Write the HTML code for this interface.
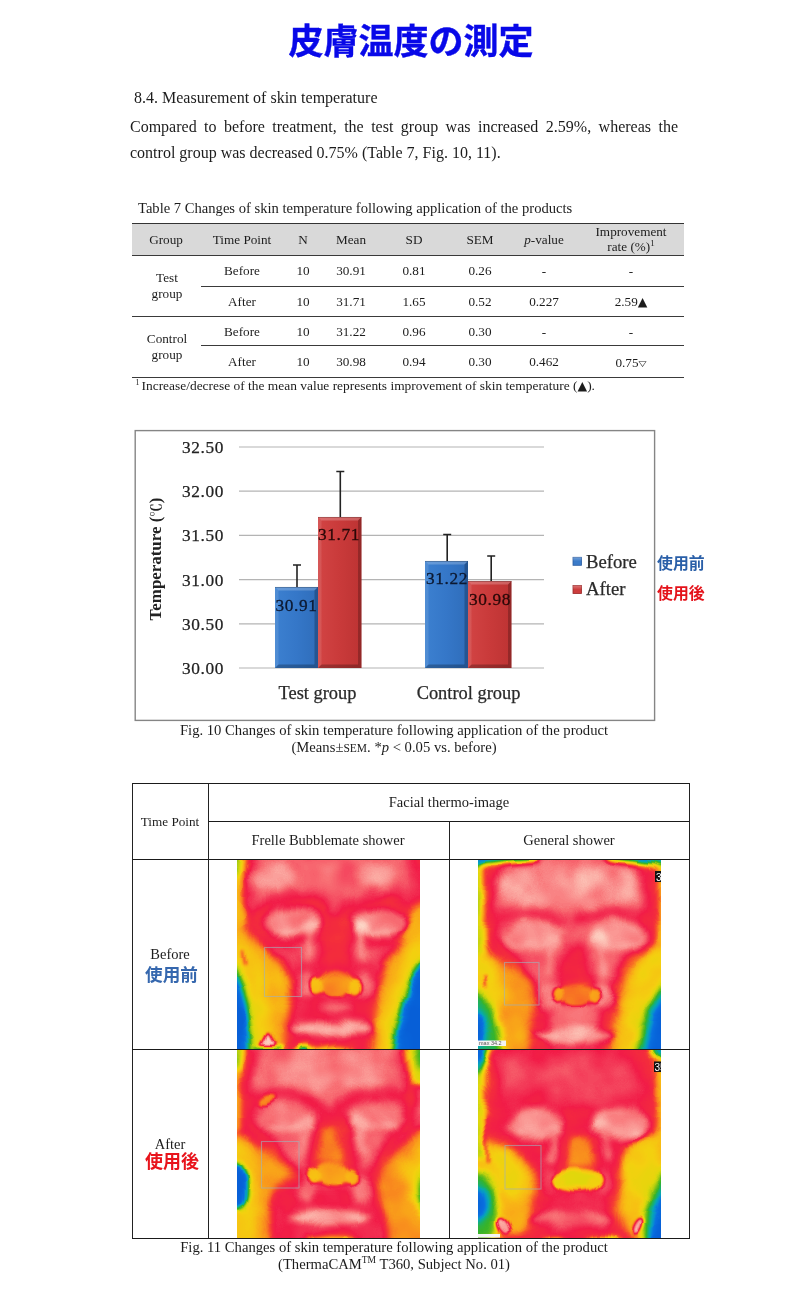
<!DOCTYPE html>
<html lang="ja">
<head>
<meta charset="utf-8">
<title>皮膚温度の測定</title>
<style>
html,body{margin:0;padding:0;background:#fff;}
body{width:800px;height:1298px;position:relative;overflow:hidden;font-family:"Liberation Serif","Noto Serif CJK SC",serif;color:#1c1c1c;}
.abs{position:absolute;white-space:nowrap;}
.title{left:11px;width:800px;top:16px;text-align:center;font-family:"Liberation Sans","Noto Sans CJK JP",sans-serif;font-weight:bold;font-size:35px;line-height:52px;color:#0808e8;-webkit-text-stroke:0.4px #0808e8;}
.p{font-size:16px;line-height:20px;}
.jp{font-family:"Liberation Sans","Noto Sans CJK JP",sans-serif;font-weight:bold;}
.hl{position:absolute;background:#3a3a3a;height:1px;}
.vl{position:absolute;background:#222;width:1px;}
.c{position:absolute;white-space:nowrap;transform:translateX(-50%);font-size:13.2px;line-height:16px;text-align:center;}
</style>
</head>
<body>
<div class="abs title">皮膚温度の測定</div>

<div class="abs p" style="left:134px;top:88px;">8.4. Measurement of skin temperature</div>
<div class="abs p" style="left:130px;top:117px;width:548px;white-space:normal;text-align:justify;text-align-last:justify;">Compared to before treatment, the test group was increased 2.59%, whereas the</div>
<div class="abs p" style="left:130px;top:143px;">control group was decreased 0.75% (Table 7, Fig. 10, 11).</div>

<!-- TABLE 7 -->
<div class="abs" style="left:138px;top:199px;font-size:14.6px;line-height:18px;">Table 7 Changes of skin temperature following application of the products</div>
<div id="t7">
<div style="position:absolute;left:132px;top:224px;width:552px;height:31px;background:#d9d9d9;"></div>
<div class="hl" style="left:132px;top:223px;width:552px;background:#333;"></div>
<div class="hl" style="left:132px;top:255px;width:552px;"></div>
<div class="hl" style="left:201px;top:286px;width:483px;"></div>
<div class="hl" style="left:132px;top:316px;width:552px;"></div>
<div class="hl" style="left:201px;top:345px;width:483px;"></div>
<div class="hl" style="left:132px;top:377px;width:552px;"></div>

<div class="c" style="left:166px;top:232px;">Group</div>
<div class="c" style="left:242px;top:232px;">Time Point</div>
<div class="c" style="left:303px;top:232px;">N</div>
<div class="c" style="left:351px;top:232px;">Mean</div>
<div class="c" style="left:414px;top:232px;">SD</div>
<div class="c" style="left:480px;top:232px;">SEM</div>
<div class="c" style="left:544px;top:232px;"><i>p</i>-value</div>
<div class="c" style="left:631px;top:224px;line-height:15px;">Improvement<br>rate (%)<sup style="font-size:9px;line-height:0;">1</sup></div>

<div class="c" style="left:167px;top:270px;line-height:16px;">Test<br>group</div>
<div class="c" style="left:167px;top:331px;line-height:16px;">Control<br>group</div>

<div class="c" style="left:242px;top:263px;">Before</div>
<div class="c" style="left:303px;top:263px;">10</div>
<div class="c" style="left:351px;top:263px;">30.91</div>
<div class="c" style="left:414px;top:263px;">0.81</div>
<div class="c" style="left:480px;top:263px;">0.26</div>
<div class="c" style="left:544px;top:263px;">-</div>
<div class="c" style="left:631px;top:263px;">-</div>

<div class="c" style="left:242px;top:294px;">After</div>
<div class="c" style="left:303px;top:294px;">10</div>
<div class="c" style="left:351px;top:294px;">31.71</div>
<div class="c" style="left:414px;top:294px;">1.65</div>
<div class="c" style="left:480px;top:294px;">0.52</div>
<div class="c" style="left:544px;top:294px;">0.227</div>
<div class="c" style="left:631px;top:294px;">2.59<span style="font-family:'DejaVu Sans',sans-serif;font-size:12.5px;line-height:0;">▲</span></div>

<div class="c" style="left:242px;top:324px;">Before</div>
<div class="c" style="left:303px;top:324px;">10</div>
<div class="c" style="left:351px;top:324px;">31.22</div>
<div class="c" style="left:414px;top:324px;">0.96</div>
<div class="c" style="left:480px;top:324px;">0.30</div>
<div class="c" style="left:544px;top:324px;">-</div>
<div class="c" style="left:631px;top:324px;">-</div>

<div class="c" style="left:242px;top:354px;">After</div>
<div class="c" style="left:303px;top:354px;">10</div>
<div class="c" style="left:351px;top:354px;">30.98</div>
<div class="c" style="left:414px;top:354px;">0.94</div>
<div class="c" style="left:480px;top:354px;">0.30</div>
<div class="c" style="left:544px;top:354px;">0.462</div>
<div class="c" style="left:631px;top:355px;">0.75<span style="font-family:'DejaVu Sans',sans-serif;font-size:10.5px;line-height:0;display:inline-block;transform:scaleY(0.7);">▽</span></div>

<div class="abs" style="left:135.5px;top:378px;font-size:13.43px;line-height:16px;"><sup style="font-size:8px;line-height:0;">1 </sup>Increase/decrese of the mean value represents improvement of skin temperature (<span style="font-family:'DejaVu Sans',sans-serif;font-size:12.5px;line-height:0;">▲</span>).</div>
</div>

<!-- CHART -->
<div id="chart"><svg style="position:absolute;left:0;top:420px;" width="800" height="360" viewBox="0 420 800 360" font-family="'Liberation Serif','Noto Serif CJK SC',serif">
<defs>
<linearGradient id="gb" x1="0" y1="0" x2="1" y2="0"><stop offset="0" stop-color="#3c80d0"/><stop offset="0.5" stop-color="#3577c8"/><stop offset="1" stop-color="#2f6dba"/></linearGradient>
<linearGradient id="gr" x1="0" y1="0" x2="1" y2="0"><stop offset="0" stop-color="#d24444"/><stop offset="0.5" stop-color="#c93a3a"/><stop offset="1" stop-color="#bd3333"/></linearGradient>
<linearGradient id="gt" x1="0" y1="0" x2="0" y2="1"><stop offset="0" stop-color="#fff" stop-opacity="0.28"/><stop offset="1" stop-color="#fff" stop-opacity="0"/></linearGradient>
<linearGradient id="gd" x1="0" y1="0" x2="0" y2="1"><stop offset="0" stop-color="#000" stop-opacity="0"/><stop offset="1" stop-color="#000" stop-opacity="0.18"/></linearGradient>
</defs>
<rect x="135.2" y="430.6" width="519.4" height="289.8" fill="#fff" stroke="#858585" stroke-width="1.4"/>
<g stroke="#b4b4b4" stroke-width="1.2">
<line x1="239" x2="544" y1="447" y2="447"/>
<line x1="239" x2="544" y1="491.2" y2="491.2"/>
<line x1="239" x2="544" y1="535.4" y2="535.4"/>
<line x1="239" x2="544" y1="579.6" y2="579.6"/>
<line x1="239" x2="544" y1="623.8" y2="623.8"/>
<line x1="239" x2="544" y1="668" y2="668"/>
</g>
<g font-size="17.3" fill="#222" stroke="#222" stroke-width="0.25" text-anchor="end" letter-spacing="0.6">
<text x="224" y="453">32.50</text>
<text x="224" y="497">32.00</text>
<text x="224" y="541">31.50</text>
<text x="224" y="585.5">31.00</text>
<text x="224" y="629.5">30.50</text>
<text x="224" y="674">30.00</text>
</g>
<text transform="translate(161,559) rotate(-90)" text-anchor="middle" font-size="16.9" font-weight="bold" fill="#222">Temperature (<tspan font-size="13.5" dy="-0.5">℃</tspan><tspan dy="0.5">)</tspan></text>
<!-- bars -->
<g>
<rect x="275" y="587" width="43" height="81" fill="url(#gb)"/><path d="M275 587H318L314.5 590.5H278.5Z" fill="#fff" fill-opacity="0.22"/><path d="M275 587L278.5 590.5V664.5L275 668Z" fill="#fff" fill-opacity="0.10"/><path d="M318 587L314.5 590.5V664.5L318 668Z" fill="#000" fill-opacity="0.22"/><path d="M275 668H318L314.5 664.5H278.5Z" fill="#000" fill-opacity="0.25"/><path d="M275 587.4H318" stroke="#000" stroke-opacity="0.3" stroke-width="0.8"/>
<rect x="318" y="517" width="43.5" height="151" fill="url(#gr)"/><path d="M318 517H361.5L358.0 520.5H321.5Z" fill="#fff" fill-opacity="0.22"/><path d="M318 517L321.5 520.5V664.5L318 668Z" fill="#fff" fill-opacity="0.10"/><path d="M361.5 517L358.0 520.5V664.5L361.5 668Z" fill="#000" fill-opacity="0.22"/><path d="M318 668H361.5L358.0 664.5H321.5Z" fill="#000" fill-opacity="0.25"/><path d="M318 517.4H361.5" stroke="#000" stroke-opacity="0.3" stroke-width="0.8"/>
<rect x="425" y="561" width="43" height="107" fill="url(#gb)"/><path d="M425 561H468L464.5 564.5H428.5Z" fill="#fff" fill-opacity="0.22"/><path d="M425 561L428.5 564.5V664.5L425 668Z" fill="#fff" fill-opacity="0.10"/><path d="M468 561L464.5 564.5V664.5L468 668Z" fill="#000" fill-opacity="0.22"/><path d="M425 668H468L464.5 664.5H428.5Z" fill="#000" fill-opacity="0.25"/><path d="M425 561.4H468" stroke="#000" stroke-opacity="0.3" stroke-width="0.8"/>
<rect x="468" y="581" width="43.5" height="87" fill="url(#gr)"/><path d="M468 581H511.5L508.0 584.5H471.5Z" fill="#fff" fill-opacity="0.22"/><path d="M468 581L471.5 584.5V664.5L468 668Z" fill="#fff" fill-opacity="0.10"/><path d="M511.5 581L508.0 584.5V664.5L511.5 668Z" fill="#000" fill-opacity="0.22"/><path d="M468 668H511.5L508.0 664.5H471.5Z" fill="#000" fill-opacity="0.25"/><path d="M468 581.4H511.5" stroke="#000" stroke-opacity="0.3" stroke-width="0.8"/>
</g>
<g stroke="#222" stroke-width="1.6" fill="none">
<path d="M297 587V565M293 565H301"/>
<path d="M340.3 517V471.5M336.3 471.5H344.3"/>
<path d="M447.2 561V534.5M443.2 534.5H451.2"/>
<path d="M491.2 581V556M487.2 556H495.2"/>
</g>
<g font-size="17.3" fill="#0c1830" stroke="#0c1830" stroke-width="0.3" text-anchor="middle" letter-spacing="0.6">
<text x="296.5" y="610.5">30.91</text>
<text x="447" y="584">31.22</text>
</g>
<g font-size="17.3" fill="#2a0808" stroke="#2a0808" stroke-width="0.3" text-anchor="middle" letter-spacing="0.6">
<text x="339" y="540">31.71</text>
<text x="490" y="604.5">30.98</text>
</g>
<g font-size="18.4" fill="#2a2a2a" stroke="#2a2a2a" stroke-width="0.25" text-anchor="middle">
<text x="317.5" y="699">Test group</text>
<text x="468.5" y="699">Control group</text>
</g>
<rect x="573" y="557.3" width="8.6" height="8" fill="#3b7bc9" stroke="#2a5ca0" stroke-width="0.8"/><rect x="573" y="557.3" width="8.6" height="4" fill="url(#gt)"/>
<rect x="573" y="585.6" width="8.6" height="8" fill="#cc3c3c" stroke="#9a2a2a" stroke-width="0.8"/><rect x="573" y="585.6" width="8.6" height="4" fill="url(#gt)"/>
<g font-size="18.7" fill="#2a2a2a" stroke="#2a2a2a" stroke-width="0.25"><text x="586" y="567.7">Before</text><text x="586" y="595.4">After</text></g>
</svg>
<div class="abs jp" style="left:657px;top:552.8px;font-size:15.9px;line-height:22px;color:#2a5fa8;">使用前</div>
<div class="abs jp" style="left:657px;top:582.6px;font-size:15.9px;line-height:22px;color:#e4121a;">使用後</div>
<div class="abs" style="left:394px;top:722px;transform:translateX(-50%);font-size:14.65px;line-height:17px;text-align:center;">Fig. 10 Changes of skin temperature following application of the product<br>(Means±<span style="font-size:11.5px;">SEM</span>. *<i>p</i> &lt; 0.05 vs. before)</div>
</div>

<!-- THERMO TABLE -->
<div id="thermo">
<!--TH0--><svg width="0" height="0" style="position:absolute"><defs>
<filter id="cmap1" x="0" y="0" width="100%" height="100%" color-interpolation-filters="sRGB"><feTurbulence type="fractalNoise" baseFrequency="0.035" numOctaves="2" seed="3" result="n"/><feDisplacementMap in="SourceGraphic" in2="n" scale="9" xChannelSelector="R" yChannelSelector="G" result="d"/><feColorMatrix in="n" type="matrix" values="0 0 1 0 0  0 0 1 0 0  0 0 1 0 0  0 0 0 0 1" result="ng"/><feComposite in="d" in2="ng" operator="arithmetic" k1="0" k2="1" k3="0.1" k4="-0.05" result="t"/><feComponentTransfer in="t"><feFuncR type="table" tableValues="0.031 0.031 0.039 0.031 0.031 0.094 0.220 0.471 0.722 0.878 0.957 0.973 0.980 0.976 0.969 0.957 0.949 0.957 0.973 0.984 0.992"/><feFuncG type="table" tableValues="0.376 0.408 0.439 0.565 0.659 0.690 0.706 0.753 0.816 0.847 0.816 0.737 0.627 0.478 0.314 0.180 0.110 0.243 0.424 0.635 0.839"/><feFuncB type="table" tableValues="0.847 0.863 0.878 0.816 0.690 0.439 0.157 0.094 0.063 0.047 0.063 0.078 0.102 0.133 0.173 0.235 0.282 0.353 0.447 0.612 0.776"/></feComponentTransfer></filter><filter id="cmap2" x="0" y="0" width="100%" height="100%" color-interpolation-filters="sRGB"><feTurbulence type="fractalNoise" baseFrequency="0.035" numOctaves="2" seed="11" result="n"/><feDisplacementMap in="SourceGraphic" in2="n" scale="9" xChannelSelector="R" yChannelSelector="G" result="d"/><feColorMatrix in="n" type="matrix" values="0 0 1 0 0  0 0 1 0 0  0 0 1 0 0  0 0 0 0 1" result="ng"/><feComposite in="d" in2="ng" operator="arithmetic" k1="0" k2="1" k3="0.1" k4="-0.05" result="t"/><feComponentTransfer in="t"><feFuncR type="table" tableValues="0.031 0.031 0.039 0.031 0.031 0.094 0.220 0.471 0.722 0.878 0.957 0.973 0.980 0.976 0.969 0.957 0.949 0.957 0.973 0.984 0.992"/><feFuncG type="table" tableValues="0.376 0.408 0.439 0.565 0.659 0.690 0.706 0.753 0.816 0.847 0.816 0.737 0.627 0.478 0.314 0.180 0.110 0.243 0.424 0.635 0.839"/><feFuncB type="table" tableValues="0.847 0.863 0.878 0.816 0.690 0.439 0.157 0.094 0.063 0.047 0.063 0.078 0.102 0.133 0.173 0.235 0.282 0.353 0.447 0.612 0.776"/></feComponentTransfer></filter><filter id="cmap3" x="0" y="0" width="100%" height="100%" color-interpolation-filters="sRGB"><feTurbulence type="fractalNoise" baseFrequency="0.035" numOctaves="2" seed="23" result="n"/><feDisplacementMap in="SourceGraphic" in2="n" scale="9" xChannelSelector="R" yChannelSelector="G" result="d"/><feColorMatrix in="n" type="matrix" values="0 0 1 0 0  0 0 1 0 0  0 0 1 0 0  0 0 0 0 1" result="ng"/><feComposite in="d" in2="ng" operator="arithmetic" k1="0" k2="1" k3="0.1" k4="-0.05" result="t"/><feComponentTransfer in="t"><feFuncR type="table" tableValues="0.031 0.031 0.039 0.031 0.031 0.094 0.220 0.471 0.722 0.878 0.957 0.973 0.980 0.976 0.969 0.957 0.949 0.957 0.973 0.984 0.992"/><feFuncG type="table" tableValues="0.376 0.408 0.439 0.565 0.659 0.690 0.706 0.753 0.816 0.847 0.816 0.737 0.627 0.478 0.314 0.180 0.110 0.243 0.424 0.635 0.839"/><feFuncB type="table" tableValues="0.847 0.863 0.878 0.816 0.690 0.439 0.157 0.094 0.063 0.047 0.063 0.078 0.102 0.133 0.173 0.235 0.282 0.353 0.447 0.612 0.776"/></feComponentTransfer></filter><filter id="cmap4" x="0" y="0" width="100%" height="100%" color-interpolation-filters="sRGB"><feTurbulence type="fractalNoise" baseFrequency="0.035" numOctaves="2" seed="37" result="n"/><feDisplacementMap in="SourceGraphic" in2="n" scale="9" xChannelSelector="R" yChannelSelector="G" result="d"/><feColorMatrix in="n" type="matrix" values="0 0 1 0 0  0 0 1 0 0  0 0 1 0 0  0 0 0 0 1" result="ng"/><feComposite in="d" in2="ng" operator="arithmetic" k1="0" k2="1" k3="0.1" k4="-0.05" result="t"/><feComponentTransfer in="t"><feFuncR type="table" tableValues="0.031 0.031 0.039 0.031 0.031 0.094 0.220 0.471 0.722 0.878 0.957 0.973 0.980 0.976 0.969 0.957 0.949 0.957 0.973 0.984 0.992"/><feFuncG type="table" tableValues="0.376 0.408 0.439 0.565 0.659 0.690 0.706 0.753 0.816 0.847 0.816 0.737 0.627 0.478 0.314 0.180 0.110 0.243 0.424 0.635 0.839"/><feFuncB type="table" tableValues="0.847 0.863 0.878 0.816 0.690 0.439 0.157 0.094 0.063 0.047 0.063 0.078 0.102 0.133 0.173 0.235 0.282 0.353 0.447 0.612 0.776"/></feComponentTransfer></filter>
<filter id="b2" x="-50%" y="-50%" width="200%" height="200%" color-interpolation-filters="sRGB"><feGaussianBlur stdDeviation="1.5"/></filter>
<filter id="b4" x="-50%" y="-50%" width="200%" height="200%" color-interpolation-filters="sRGB"><feGaussianBlur stdDeviation="3"/></filter>
<filter id="b5" x="-50%" y="-50%" width="200%" height="200%" color-interpolation-filters="sRGB"><feGaussianBlur stdDeviation="4.2"/></filter>
<filter id="b6" x="-50%" y="-50%" width="200%" height="200%" color-interpolation-filters="sRGB"><feGaussianBlur stdDeviation="5"/></filter>
<filter id="b9" x="-50%" y="-50%" width="200%" height="200%" color-interpolation-filters="sRGB"><feGaussianBlur stdDeviation="8"/></filter>
</defs></svg><svg style="position:absolute;left:237px;top:860px;z-index:1;" width="183" height="190" viewBox="0 0 183 190"><g filter="url(#cmap1)"><rect x="0" y="0" width="183" height="190" fill="rgb(226,226,226)"/><g><rect x="-20" y="-20" width="223" height="230" fill="rgb(226,226,226)"/><g filter="url(#b9)"><path d="M-20 -20 L20 -20 L8 30 L14 70 L44 110 L60 150 L64 210 L-20 210Z" fill="rgb(194,194,194)"/><path d="M203 -20 L172 -20 L178 30 L172 70 L148 110 L134 150 L130 210 L203 210Z" fill="rgb(194,194,194)"/></g><g filter="url(#b6)"><ellipse cx="54" cy="60" rx="40" ry="27" fill="rgb(195,195,195)" transform="rotate(-8 54 60)"/><ellipse cx="143" cy="60" rx="40" ry="27" fill="rgb(195,195,195)" transform="rotate(8 143 60)"/><path d="M88 56 L110 56 L120 118 L76 118Z" fill="rgb(194,194,194)"/><path d="M62 118 L74 118 L60 165 L48 165Z" fill="rgb(201,201,201)"/><path d="M124 118 L136 118 L146 165 L134 165Z" fill="rgb(201,201,201)"/><ellipse cx="93" cy="183" rx="52" ry="6" fill="rgb(199,199,199)"/><path d="M56 104 L140 104 L136 160 L140 195 L54 195 L58 160Z" fill="rgb(205,205,205)"/><ellipse cx="36" cy="16" rx="24" ry="14" fill="rgb(242,242,242)"/><ellipse cx="140" cy="16" rx="18" ry="12" fill="rgb(240,240,240)"/></g><g filter="url(#b6)"><path d="M-10 50 L8 52 L10 76 L26 88 L45 100 L55 122 L53 142 L47 165 L45 210 L-10 210Z" fill="rgb(144,144,144)"/><path d="M203 40 L176 46 L168 66 L166 84 L148 104 L141 136 L137 165 L133 210 L203 210Z" fill="rgb(144,144,144)"/></g><g filter="url(#b5)"><path d="M-10 84 L10 88 L24 104 L30 130 L32 160 L34 210 L-10 210Z" fill="rgb(128,128,128)"/><path d="M203 70 L176 84 L162 104 L154 136 L148 165 L142 210 L203 210Z" fill="rgb(128,128,128)"/><path d="M-10 104 L-2 110 L6 130 L10 152 L14 182 L15 210 L-10 210Z" fill="rgb(0,0,0)"/><path d="M203 94 L186 102 L174 120 L168 140 L160 165 L153 210 L203 210Z" fill="rgb(0,0,0)"/></g><g filter="url(#b4)"><ellipse cx="55" cy="63" rx="30" ry="15" fill="rgb(232,232,232)" transform="rotate(-4 55 63)"/><ellipse cx="74" cy="68" rx="9" ry="8" fill="rgb(249,249,249)"/><ellipse cx="57" cy="72" rx="24" ry="3.2" fill="rgb(244,244,244)" transform="rotate(-2 57 72)"/><path d="M75 71 L70 99" fill="none" stroke="rgb(241,241,241)" stroke-width="6" stroke-linecap="round" stroke-linejoin="round"/><ellipse cx="143" cy="63" rx="30" ry="15" fill="rgb(232,232,232)" transform="rotate(4 143 63)"/><ellipse cx="124" cy="68" rx="9" ry="8" fill="rgb(249,249,249)"/><ellipse cx="141" cy="72" rx="24" ry="3.2" fill="rgb(244,244,244)" transform="rotate(2 141 72)"/><path d="M123 71 L128 99" fill="none" stroke="rgb(241,241,241)" stroke-width="6" stroke-linecap="round" stroke-linejoin="round"/><ellipse cx="70" cy="124" rx="8" ry="13" fill="rgb(230,230,230)"/><ellipse cx="128" cy="124" rx="8" ry="13" fill="rgb(230,230,230)"/><ellipse cx="98" cy="148" rx="18" ry="5" fill="rgb(224,224,224)"/><ellipse cx="94" cy="169" rx="41" ry="7.5" fill="rgb(245,245,245)"/><path d="M-10 -10 L8 -10 L6 40 L8 64 L-10 70Z" fill="rgb(140,140,140)"/><path d="M-10 -10 L6 -10 L3 16 L-10 24Z" fill="rgb(92,92,92)"/><ellipse cx="69" cy="194" rx="9" ry="7" fill="rgb(26,26,26)"/><ellipse cx="98" cy="194" rx="22" ry="6.5" fill="rgb(107,107,107)"/></g><g filter="url(#b2)"><ellipse cx="99" cy="118" rx="15" ry="9" fill="rgb(173,173,173)"/><ellipse cx="99" cy="121" rx="18" ry="8.5" fill="rgb(166,166,166)"/><ellipse cx="99" cy="125" rx="16" ry="10.5" fill="rgb(156,156,156)"/><ellipse cx="87" cy="125" rx="7" ry="8.5" fill="rgb(156,156,156)"/><ellipse cx="111" cy="125" rx="7" ry="8.5" fill="rgb(156,156,156)"/><ellipse cx="79.5" cy="125.5" rx="6.5" ry="7.5" fill="rgb(138,138,138)"/><ellipse cx="118.5" cy="126" rx="6.5" ry="7.5" fill="rgb(138,138,138)"/><ellipse cx="86.5" cy="133.5" rx="2.8" ry="2.2" fill="rgb(204,204,204)"/><ellipse cx="111.5" cy="133.5" rx="2.8" ry="2.2" fill="rgb(204,204,204)"/><path d="M23 186 L31 172 L39 186Z" fill="rgb(255,255,255)"/><path d="M6 92 L8 107" fill="none" stroke="rgb(178,178,178)" stroke-width="3" stroke-linecap="round" stroke-linejoin="round"/><path d="M20 188.5 L44 188.5" fill="none" stroke="rgb(64,64,64)" stroke-width="2.5" stroke-linecap="round" stroke-linejoin="round"/></g></g></g><rect x="27.5" y="87.5" width="37" height="49" fill="none" stroke="#9fb2bc" stroke-opacity="0.6" stroke-width="1.1"/></svg><svg style="position:absolute;left:478px;top:860px;z-index:1;" width="183" height="190" viewBox="0 0 183 190"><g filter="url(#cmap2)"><rect x="0" y="0" width="183" height="190" fill="rgb(228,228,228)"/><g><rect x="-20" y="-20" width="223" height="230" fill="rgb(228,228,228)"/><g filter="url(#b9)"><ellipse cx="92" cy="36" rx="62" ry="26" fill="rgb(238,238,238)"/></g><g filter="url(#b6)"><ellipse cx="36" cy="22" rx="18" ry="13" fill="rgb(246,246,246)"/><ellipse cx="150" cy="24" rx="10" ry="14" fill="rgb(244,244,244)"/><ellipse cx="112" cy="20" rx="14" ry="10" fill="rgb(242,242,242)"/></g><g filter="url(#b6)"><path d="M15 2 C9 36 9 66 15 84 L36 104 L58 140" fill="none" stroke="rgb(193,193,193)" stroke-width="13" stroke-linecap="round" stroke-linejoin="round"/><path d="M62 140 L62 168 L62 200" fill="none" stroke="rgb(195,195,195)" stroke-width="20" stroke-linecap="round" stroke-linejoin="round"/><path d="M169 2 C175 36 175 62 170 78 L150 104 L138 132" fill="none" stroke="rgb(193,193,193)" stroke-width="13" stroke-linecap="round" stroke-linejoin="round"/><path d="M132 132 L130 168 L128 200" fill="none" stroke="rgb(195,195,195)" stroke-width="20" stroke-linecap="round" stroke-linejoin="round"/><path d="M22 60 Q50 44 86 62" fill="none" stroke="rgb(198,198,198)" stroke-width="9" stroke-linecap="round" stroke-linejoin="round"/><path d="M98 62 Q134 44 166 58" fill="none" stroke="rgb(198,198,198)" stroke-width="9" stroke-linecap="round" stroke-linejoin="round"/><path d="M90 82 L106 82 L118 130 L76 130Z" fill="rgb(196,196,196)"/><path d="M70 128 L58 166" fill="none" stroke="rgb(209,209,209)" stroke-width="6" stroke-linecap="round" stroke-linejoin="round"/><path d="M126 128 L138 166" fill="none" stroke="rgb(209,209,209)" stroke-width="6" stroke-linecap="round" stroke-linejoin="round"/><ellipse cx="97" cy="188" rx="46" ry="5" fill="rgb(201,201,201)"/></g><g filter="url(#b6)"><path d="M-10 90 L10 92 L28 104 L52 120 L59 144 L54 165 L49 210 L-10 210Z" fill="rgb(153,153,153)"/><path d="M204 78 L178 84 L162 96 L147 114 L140 138 L135 165 L131 210 L204 210Z" fill="rgb(143,143,143)"/></g><g filter="url(#b5)"><path d="M-10 96 L8 98 L20 110 L26 128 L24 146 L18 170 L16 210 L-10 210Z" fill="rgb(128,128,128)"/><path d="M204 84 L178 90 L164 104 L155 124 L150 146 L146 170 L143 210 L204 210Z" fill="rgb(128,128,128)"/><path d="M-10 126 L4 132 L14 146 L22 166 L25 186 L26 210 L-10 210Z" fill="rgb(66,66,66)"/><path d="M-10 150 L3 158 L8 172 L7 184 L-10 190Z" fill="rgb(0,0,0)"/><path d="M204 116 L184 124 L172 142 L164 164 L158 190 L156 210 L204 210Z" fill="rgb(66,66,66)"/><path d="M204 130 L188 138 L178 156 L170 180 L167 210 L204 210Z" fill="rgb(0,0,0)"/></g><g filter="url(#b4)"><ellipse cx="55" cy="76" rx="30" ry="16" fill="rgb(237,237,237)" transform="rotate(-3 55 76)"/><ellipse cx="74" cy="81" rx="9" ry="8" fill="rgb(249,249,249)"/><ellipse cx="57" cy="85" rx="24" ry="3.2" fill="rgb(244,244,244)" transform="rotate(-2 57 85)"/><path d="M75 84 L70 112" fill="none" stroke="rgb(241,241,241)" stroke-width="6" stroke-linecap="round" stroke-linejoin="round"/><ellipse cx="141" cy="76" rx="30" ry="16" fill="rgb(237,237,237)" transform="rotate(3 141 76)"/><ellipse cx="122" cy="81" rx="9" ry="8" fill="rgb(249,249,249)"/><ellipse cx="139" cy="85" rx="24" ry="3.2" fill="rgb(244,244,244)" transform="rotate(2 139 85)"/><path d="M121 84 L126 112" fill="none" stroke="rgb(241,241,241)" stroke-width="6" stroke-linecap="round" stroke-linejoin="round"/><ellipse cx="70" cy="136" rx="10" ry="14" fill="rgb(235,235,235)"/><ellipse cx="126" cy="136" rx="10" ry="14" fill="rgb(235,235,235)"/><ellipse cx="97" cy="175" rx="41" ry="7" fill="rgb(244,244,244)"/><path d="M-10 -10 L7 -10 L6 60 L9 96 L-10 100Z" fill="rgb(107,107,107)"/><path d="M204 -10 L179 -10 L179 40 L178 86 L204 90Z" fill="rgb(138,138,138)"/><path d="M-10 -10 L60 -10 L60 0.5 L28 2.5 L-10 6Z" fill="rgb(31,31,31)"/><path d="M204 -10 L128 -10 L130 0.5 L165 4 L204 8Z" fill="rgb(31,31,31)"/></g><g filter="url(#b2)"><ellipse cx="98" cy="128" rx="15" ry="9" fill="rgb(191,191,191)"/><ellipse cx="98" cy="131" rx="18" ry="8.5" fill="rgb(184,184,184)"/><ellipse cx="98" cy="135" rx="16" ry="10.5" fill="rgb(168,168,168)"/><ellipse cx="86" cy="135" rx="7" ry="8.5" fill="rgb(168,168,168)"/><ellipse cx="110" cy="135" rx="7" ry="8.5" fill="rgb(168,168,168)"/><ellipse cx="78.5" cy="135.5" rx="6.5" ry="7.5" fill="rgb(153,153,153)"/><ellipse cx="117.5" cy="136" rx="6.5" ry="7.5" fill="rgb(153,153,153)"/><ellipse cx="85.5" cy="143.5" rx="2.8" ry="2.2" fill="rgb(204,204,204)"/><ellipse cx="110.5" cy="143.5" rx="2.8" ry="2.2" fill="rgb(204,204,204)"/><path d="M8 116 L9 126" fill="none" stroke="rgb(189,189,189)" stroke-width="3" stroke-linecap="round" stroke-linejoin="round"/></g></g></g><rect x="26.5" y="102.5" width="34.5" height="42.5" fill="none" stroke="#9fb2bc" stroke-opacity="0.6" stroke-width="1.1"/><rect x="177" y="11" width="8" height="11" fill="#111"/><text x="178" y="20.5" font-family="'Liberation Sans',sans-serif" font-size="10" fill="#fff">3</text><rect x="0" y="180.5" width="28" height="5.5" fill="#f4f4f4"/><text x="1" y="185.3" font-family="'Liberation Sans',sans-serif" font-size="5.5" fill="#555">max 34.2</text></svg><svg style="position:absolute;left:237px;top:1050px;z-index:1;" width="183" height="188" viewBox="0 0 183 188"><g filter="url(#cmap3)"><rect x="0" y="0" width="183" height="188" fill="rgb(228,228,228)"/><g><rect x="-20" y="-20" width="223" height="228" fill="rgb(228,228,228)"/><g filter="url(#b9)"><ellipse cx="92" cy="22" rx="60" ry="24" fill="rgb(238,238,238)"/></g><g filter="url(#b6)"><path d="M14 2 C8 30 8 56 14 74 L34 96 L60 132" fill="none" stroke="rgb(193,193,193)" stroke-width="13" stroke-linecap="round" stroke-linejoin="round"/><path d="M56 136 L50 165 L52 200" fill="none" stroke="rgb(196,196,196)" stroke-width="22" stroke-linecap="round" stroke-linejoin="round"/><path d="M170 2 C177 30 177 56 171 72 L152 96 L136 126" fill="none" stroke="rgb(193,193,193)" stroke-width="13" stroke-linecap="round" stroke-linejoin="round"/><path d="M130 130 L134 165 L138 200" fill="none" stroke="rgb(196,196,196)" stroke-width="20" stroke-linecap="round" stroke-linejoin="round"/><path d="M20 50 Q48 36 84 56" fill="none" stroke="rgb(198,198,198)" stroke-width="9" stroke-linecap="round" stroke-linejoin="round"/><path d="M100 56 Q134 38 168 50" fill="none" stroke="rgb(198,198,198)" stroke-width="9" stroke-linecap="round" stroke-linejoin="round"/><path d="M82 60 L112 60 L124 124 L70 124Z" fill="rgb(194,194,194)"/><path d="M68 124 L54 164" fill="none" stroke="rgb(204,204,204)" stroke-width="7" stroke-linecap="round" stroke-linejoin="round"/><path d="M126 124 L140 164" fill="none" stroke="rgb(204,204,204)" stroke-width="7" stroke-linecap="round" stroke-linejoin="round"/><ellipse cx="92" cy="184" rx="50" ry="5" fill="rgb(201,201,201)"/><path d="M40 136 L142 136 L150 196 L36 196Z" fill="rgb(205,205,205)"/></g><g filter="url(#b6)"><path d="M-10 80 L8 84 L28 100 L52 116 L54 126 L42 136 L36 148 L33 165 L36 190 L38 210 L-10 210Z" fill="rgb(153,153,153)"/><path d="M203 74 L180 80 L162 98 L144 120 L139 138 L146 160 L151 182 L153 210 L203 210Z" fill="rgb(156,156,156)"/></g><g filter="url(#b5)"><path d="M-10 90 L8 94 L18 108 L22 132 L20 160 L24 210 L-10 210Z" fill="rgb(133,133,133)"/><path d="M203 88 L184 94 L170 108 L166 128 L172 142 L184 152 L203 152Z" fill="rgb(133,133,133)"/><path d="M203 108 L186 114 L180 140 L184 168 L203 172Z" fill="rgb(56,56,56)"/></g><g filter="url(#b4)"><path d="M-10 113 L2 114 L9 126 L9 148 L3 157 L-10 158Z" fill="rgb(0,0,0)"/><ellipse cx="51" cy="68" rx="28" ry="13" fill="rgb(230,230,230)" transform="rotate(-4 51 68)"/><ellipse cx="70" cy="73" rx="9" ry="8" fill="rgb(245,245,245)"/><ellipse cx="53" cy="77" rx="24" ry="3.2" fill="rgb(242,242,242)" transform="rotate(-2 53 77)"/><path d="M71 76 L66 104" fill="none" stroke="rgb(240,240,240)" stroke-width="6" stroke-linecap="round" stroke-linejoin="round"/><ellipse cx="141" cy="66" rx="28" ry="13" fill="rgb(230,230,230)" transform="rotate(4 141 66)"/><ellipse cx="122" cy="71" rx="9" ry="8" fill="rgb(245,245,245)"/><ellipse cx="139" cy="75" rx="24" ry="3.2" fill="rgb(242,242,242)" transform="rotate(2 139 75)"/><path d="M121 74 L126 102" fill="none" stroke="rgb(240,240,240)" stroke-width="6" stroke-linecap="round" stroke-linejoin="round"/><ellipse cx="70" cy="140" rx="9" ry="14" fill="rgb(232,232,232)"/><ellipse cx="124" cy="140" rx="9" ry="14" fill="rgb(232,232,232)"/><ellipse cx="92" cy="167" rx="41" ry="8" fill="rgb(244,244,244)"/><path d="M-10 -10 L9 -10 L6 22 L-10 30Z" fill="rgb(102,102,102)"/><path d="M-10 20 L5 22 L6 80 L-10 84Z" fill="rgb(148,148,148)"/><path d="M203 -10 L168 -10 L174 22 L178 34 L203 40Z" fill="rgb(112,112,112)"/><path d="M203 -10 L178 -10 L182 18 L203 22Z" fill="rgb(76,76,76)"/><ellipse cx="94" cy="193" rx="28" ry="5.5" fill="rgb(102,102,102)"/><path d="M85 78 L99 76 L106 112 L82 112Z" fill="rgb(163,163,163)"/></g><g filter="url(#b2)"><ellipse cx="95" cy="119" rx="15" ry="9" fill="rgb(161,161,161)"/><ellipse cx="95" cy="122" rx="18" ry="8.5" fill="rgb(153,153,153)"/><ellipse cx="95" cy="126" rx="16" ry="10.5" fill="rgb(153,153,153)"/><ellipse cx="83" cy="126" rx="7" ry="8.5" fill="rgb(153,153,153)"/><ellipse cx="107" cy="126" rx="7" ry="8.5" fill="rgb(153,153,153)"/><ellipse cx="75.5" cy="126.5" rx="6.5" ry="7.5" fill="rgb(143,143,143)"/><ellipse cx="114.5" cy="127" rx="6.5" ry="7.5" fill="rgb(143,143,143)"/><ellipse cx="82.5" cy="134.5" rx="2.8" ry="2.2" fill="rgb(204,204,204)"/><ellipse cx="107.5" cy="134.5" rx="2.8" ry="2.2" fill="rgb(204,204,204)"/><ellipse cx="30" cy="51" rx="9" ry="4.5" fill="rgb(161,161,161)" transform="rotate(-22 30 51)"/></g></g></g><rect x="24.5" y="91.5" width="37.5" height="46.5" fill="none" stroke="#9fb2bc" stroke-opacity="0.6" stroke-width="1.1"/></svg><svg style="position:absolute;left:478px;top:1050px;z-index:1;" width="183" height="188" viewBox="0 0 183 188"><g filter="url(#cmap4)"><rect x="0" y="0" width="183" height="188" fill="rgb(204,204,204)"/><g><rect x="-20" y="-20" width="223" height="228" fill="rgb(204,204,204)"/><g filter="url(#b9)"><ellipse cx="110" cy="30" rx="50" ry="24" fill="rgb(219,219,219)"/><ellipse cx="38" cy="28" rx="20" ry="18" fill="rgb(222,222,222)"/></g><g filter="url(#b6)"><path d="M14 2 C8 36 8 66 14 84 L36 104 L60 140 L54 168 L52 200" fill="none" stroke="rgb(193,193,193)" stroke-width="12" stroke-linecap="round" stroke-linejoin="round"/><path d="M170 2 C177 36 177 62 171 78 L150 104 L138 132 L138 168 L138 200" fill="none" stroke="rgb(193,193,193)" stroke-width="12" stroke-linecap="round" stroke-linejoin="round"/><path d="M88 60 L110 60 L122 124 L74 124Z" fill="rgb(196,196,196)"/><ellipse cx="94" cy="152" rx="34" ry="6" fill="rgb(209,209,209)"/></g><g filter="url(#b6)"><path d="M-10 84 L10 88 L28 98 L52 116 L58 140 L52 160 L48 182 L-10 190Z" fill="rgb(145,145,145)"/><path d="M204 76 L178 82 L162 94 L146 112 L142 138 L140 160 L150 190 L204 194Z" fill="rgb(143,143,143)"/></g><g filter="url(#b5)"><path d="M12 98 L34 102 L46 120 L46 140 L32 150 L18 134Z" fill="rgb(125,125,125)"/><path d="M150 94 L178 88 L182 130 L172 150 L150 142 L146 120Z" fill="rgb(125,125,125)"/><path d="M-10 118 L6 122 L18 140 L22 166 L18 188 L-10 192Z" fill="rgb(71,71,71)"/><path d="M-10 134 L3 138 L8 156 L5 168 L-10 172Z" fill="rgb(15,15,15)"/><path d="M204 112 L186 120 L174 140 L166 166 L164 210 L204 210Z" fill="rgb(66,66,66)"/><path d="M204 128 L190 136 L180 156 L174 184 L172 210 L204 210Z" fill="rgb(0,0,0)"/></g><g filter="url(#b4)"><ellipse cx="57" cy="74" rx="29" ry="17" fill="rgb(236,236,236)" transform="rotate(-4 57 74)"/><ellipse cx="76" cy="79" rx="9" ry="8" fill="rgb(249,249,249)"/><ellipse cx="59" cy="83" rx="24" ry="3.2" fill="rgb(242,242,242)" transform="rotate(-2 59 83)"/><path d="M77 82 L72 110" fill="none" stroke="rgb(240,240,240)" stroke-width="6" stroke-linecap="round" stroke-linejoin="round"/><ellipse cx="143" cy="74" rx="29" ry="17" fill="rgb(236,236,236)" transform="rotate(4 143 74)"/><ellipse cx="124" cy="79" rx="9" ry="8" fill="rgb(249,249,249)"/><ellipse cx="141" cy="83" rx="24" ry="3.2" fill="rgb(242,242,242)" transform="rotate(2 141 83)"/><path d="M123 82 L128 110" fill="none" stroke="rgb(240,240,240)" stroke-width="6" stroke-linecap="round" stroke-linejoin="round"/><ellipse cx="72" cy="132" rx="8" ry="12" fill="rgb(219,219,219)"/><ellipse cx="124" cy="132" rx="8" ry="12" fill="rgb(219,219,219)"/><ellipse cx="94" cy="169" rx="42" ry="7.5" fill="rgb(227,227,227)"/><path d="M-10 -10 L7 -10 L6 60 L7 108 L-10 112Z" fill="rgb(107,107,107)"/><path d="M204 -10 L179 -10 L179 40 L179 88 L204 92Z" fill="rgb(138,138,138)"/><path d="M-10 -10 L16 -10 L10 10 L5 20 L-10 26Z" fill="rgb(51,51,51)"/><path d="M-10 -10 L8 -10 L5 8 L-10 14Z" fill="rgb(8,8,8)"/><path d="M204 -10 L170 -10 L176 6 L204 12Z" fill="rgb(41,41,41)"/><ellipse cx="76" cy="194" rx="9" ry="5" fill="rgb(20,20,20)"/><ellipse cx="124" cy="194" rx="16" ry="5" fill="rgb(20,20,20)"/><path d="M94 86 L110 86 L116 118 L90 118Z" fill="rgb(161,161,161)"/></g><g filter="url(#b2)"><ellipse cx="99" cy="130" rx="24" ry="12" fill="rgb(133,133,133)"/><ellipse cx="99" cy="130" rx="17" ry="8" fill="rgb(115,115,115)"/><ellipse cx="83" cy="133" rx="6" ry="5" fill="rgb(125,125,125)"/><ellipse cx="115" cy="133" rx="6" ry="5" fill="rgb(125,125,125)"/><ellipse cx="26" cy="176" rx="5" ry="9" fill="rgb(245,245,245)" transform="rotate(-30 26 176)"/><ellipse cx="160" cy="177" rx="4" ry="9" fill="rgb(245,245,245)" transform="rotate(25 160 177)"/><path d="M9 66 L10 112" fill="none" stroke="rgb(194,194,194)" stroke-width="3" stroke-linecap="round" stroke-linejoin="round"/></g></g></g><rect x="27" y="95.5" width="36" height="43.5" fill="none" stroke="#9fb2bc" stroke-opacity="0.6" stroke-width="1.1"/><rect x="176" y="11.5" width="9" height="10.5" fill="#111"/><text x="176.5" y="20.5" font-family="'Liberation Sans',sans-serif" font-size="10" fill="#fff">35</text><rect x="0" y="184" width="22" height="3.5" fill="#f4f4f4"/></svg><!--TH1-->
<div class="hl" style="left:132px;top:783px;width:558px;background:#1a1a1a;"></div>
<div class="hl" style="left:209px;top:821px;width:481px;background:#1a1a1a;"></div>
<div class="hl" style="left:132px;top:859px;width:558px;background:#1a1a1a;"></div>
<div class="hl" style="left:132px;top:1049px;width:558px;background:#1a1a1a;z-index:3;"></div>
<div class="hl" style="left:132px;top:1238px;width:558px;background:#1a1a1a;z-index:3;"></div>
<div class="vl" style="left:132px;top:783px;height:456px;"></div>
<div class="vl" style="left:208px;top:783px;height:456px;"></div>
<div class="vl" style="left:449px;top:821px;height:418px;"></div>
<div class="vl" style="left:689px;top:783px;height:456px;"></div>
<div class="c" style="left:170px;top:814px;">Time Point</div>
<div class="c" style="left:449px;top:794px;font-size:14.5px;">Facial thermo-image</div>
<div class="c" style="left:328px;top:832px;font-size:14.5px;">Frelle Bubblemate shower</div>
<div class="c" style="left:569px;top:832px;font-size:14.5px;">General shower</div>
<div class="c" style="left:170px;top:946px;font-size:14.5px;">Before</div>
<div class="c jp" style="left:171.5px;top:963px;font-size:17.6px;line-height:24px;color:#3567ae;">使用前</div>
<div class="c" style="left:170px;top:1136px;font-size:14.5px;">After</div>
<div class="c jp" style="left:172px;top:1149.5px;font-size:18px;line-height:24px;color:#e8141c;">使用後</div>
<div class="abs" style="left:394px;top:1239px;transform:translateX(-50%);font-size:14.65px;line-height:17px;text-align:center;">Fig. 11 Changes of skin temperature following application of the product<br>(ThermaCAM<sup style="font-size:9.5px;line-height:0;">TM</sup> T360, Subject No. 01)</div>
</div>

</body>
</html>
